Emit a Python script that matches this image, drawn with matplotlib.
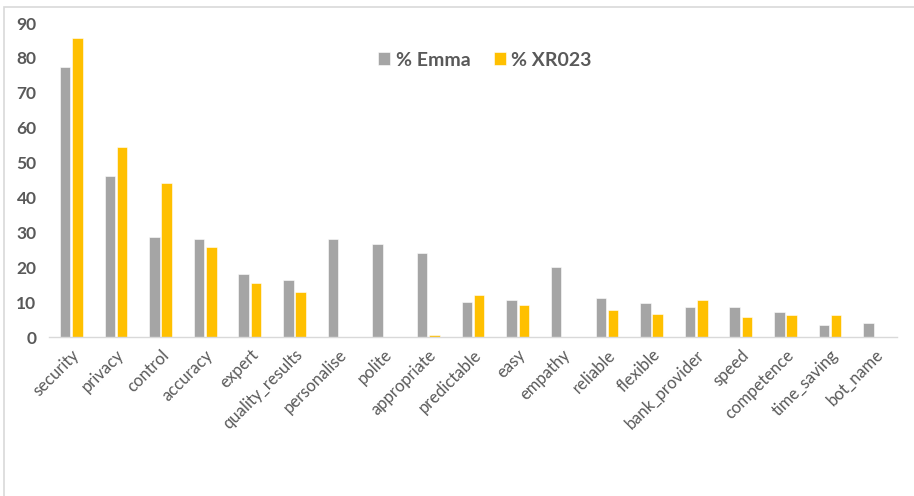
import numpy as np
import matplotlib.pyplot as plt
from matplotlib.patches import Rectangle

# -----------------------------------------------------------------------------
# Data
# -----------------------------------------------------------------------------
categories = [
    "security", "privacy", "control", "accuracy", "expert", "quality_results",
    "personalise", "polite", "appropriate", "predictable", "easy", "empathy",
    "reliable", "flexible", "bank_provider", "speed", "competence",
    "time_saving", "bot_name",
]
emma = [77.5, 46.2, 28.7, 28.2, 18.0, 16.4, 28.2, 26.6, 24.2, 10.1, 10.6, 20.0,
        11.2, 9.7, 8.7, 8.7, 7.2, 3.4, 4.1]
xr023 = [85.7, 54.4, 44.2, 25.7, 15.4, 12.9, 0.0, 0.0, 0.5, 12.1, 9.2, 0.0,
         7.6, 6.6, 10.6, 5.6, 6.2, 6.2, 0.0]
y_ticks = [0, 10, 20, 30, 40, 50, 60, 70, 80, 90]

COLOR_EMMA = "#A5A5A5"
COLOR_XR = "#FFC000"
COLOR_TEXT = "#595959"
FONT = ["Lato", "DejaVu Sans"]

plt.rcParams["font.family"] = FONT

W, H = 914, 496
fig = plt.figure(figsize=(W / 100, H / 100), dpi=100)
ax = fig.add_axes([49 / W, (H - 337) / H, (897 - 49) / W, (337 - 23) / H])

x = np.arange(len(categories))
bw = 0.235
ax.bar(x - bw / 2 - 0.02, emma, width=bw, color=COLOR_EMMA,
       edgecolor="white", linewidth=0.4, label="% Emma")
ax.bar(x + bw / 2 + 0.02, xr023, width=bw, color=COLOR_XR,
       edgecolor="white", linewidth=0.4, label="% XR023")

ax.set_xlim(-0.5, len(categories) - 0.5)
ax.set_ylim(0, 90)
ax.set_yticks(y_ticks)
ax.set_yticklabels([str(t) for t in y_ticks], fontsize=12.5, fontweight="bold",
                   color=COLOR_TEXT)
ax.set_xticks(x)
ax.set_xticklabels(categories, rotation=45, ha="right", va="top",
                   rotation_mode="anchor", fontsize=12, color=COLOR_TEXT)
ax.tick_params(axis="both", length=0)
ax.tick_params(axis="y", pad=9)
ax.tick_params(axis="x", pad=7)

for s in ["top", "right", "left"]:
    ax.spines[s].set_visible(False)
ax.spines["bottom"].set_color("#D9D9D9")
ax.spines["bottom"].set_linewidth(1.0)

leg = ax.legend(loc="center", bbox_to_anchor=(485 / W, (H - 60) / H),
                bbox_transform=fig.transFigure, ncol=2, frameon=False,
                handlelength=0.6, handleheight=0.6, handletextpad=0.3,
                columnspacing=1.2,
                prop={"family": FONT, "weight": "bold", "size": 14})
for t in leg.get_texts():
    t.set_color(COLOR_TEXT)

# Chart border (partially cropped in reference)
fig.patches.append(Rectangle((4 / W, -0.1), 1.2, (H - 3) / H + 0.1 - 4 / H,
                             transform=fig.transFigure, fill=False,
                             edgecolor="#D9D9D9", linewidth=1.2))

fig.savefig("out.png", dpi=100)
